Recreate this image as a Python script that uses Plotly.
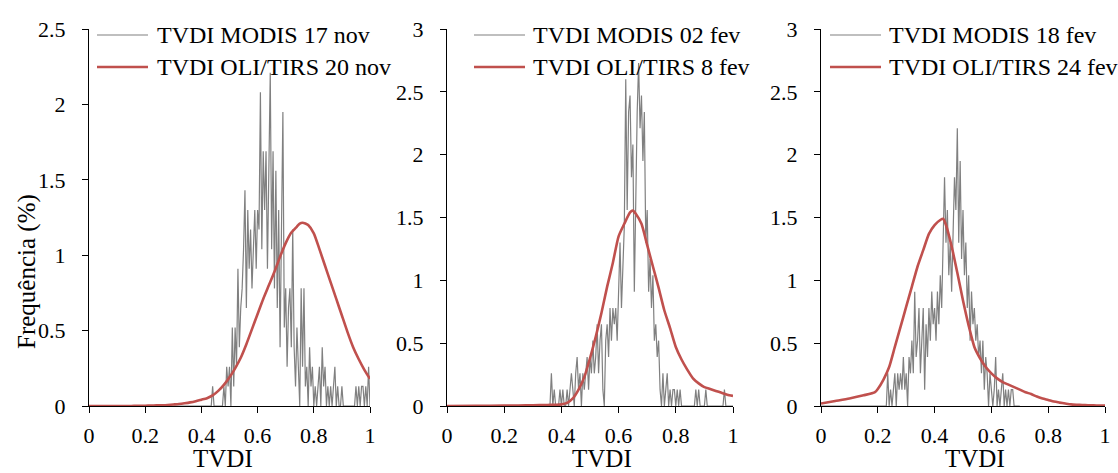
import numpy as np
import plotly.graph_objects as go

W, H = 1118, 473
FONT = "Liberation Serif"
GRAY = "#808080"
RED = "#C0504D"

# ---------------- data ----------------
step = 0.005

# Panel 1: MODIS 17 nov (gray), OLI/TIRS 20 nov (red)
p1_gray_start = 0.400
p1_gray = [
    0, 0, 0, 0, 0, 0, 0, 0, 0.13, 0,
    0, 0, 0, 0, 0, 0, 0.13, 0, 0.26, 0.13,
    0.26, 0, 0.52, 0.13, 0.52, 0.26, 0.91, 0.39, 0.65, 0.78,
    1.04, 1.43, 0.65, 1.30, 0.91, 1.17, 0.78, 1.04, 1.30, 0.91,
    1.30, 1.17, 2.08, 1.04, 1.69, 1.30, 1.69, 0.91, 1.56, 2.21,
    1.04, 1.69, 0.78, 1.56, 0.65, 1.30, 0.39, 1.04, 1.95, 0.52,
    0.78, 0.26, 0.65, 0.78, 0.39, 1.17, 0.39, 0.13, 0.52, 0.26,
    0, 0.78, 0.26, 0.78, 0.13, 0.26, 0, 0.39, 0.13, 0.26,
    0, 0.13, 0, 0.13, 0.26, 0, 0.39, 0.13, 0.26, 0,
    0.13, 0, 0.13, 0, 0.13, 0.26, 0, 0.13, 0, 0,
    0.13, 0, 0, 0, 0, 0, 0, 0, 0, 0,
    0.13, 0, 0.13, 0, 0.13, 0.13, 0, 0.13, 0, 0.26,
    0,
]
p1_red_x = [0.00, 0.02, 0.04, 0.06, 0.08, 0.10, 0.12, 0.14, 0.16, 0.18, 0.20, 0.22,
            0.24, 0.26, 0.28, 0.30, 0.32, 0.34, 0.36, 0.38, 0.40, 0.42, 0.44, 0.46,
            0.48, 0.50, 0.52, 0.54, 0.56, 0.58, 0.60, 0.62, 0.64, 0.66, 0.68, 0.70,
            0.72, 0.74, 0.75, 0.76, 0.77, 0.78, 0.80, 0.82, 0.84, 0.86, 0.88, 0.90,
            0.92, 0.94, 0.96, 0.98, 1.00]
p1_red_y = [0.0, 0.0, 0.0, 0.0, 0.0, 0.0, 0.0, 0.0, 0.001, 0.001, 0.002, 0.003,
            0.004, 0.005, 0.007, 0.010, 0.013, 0.018, 0.024, 0.032, 0.042, 0.052, 0.07, 0.10,
            0.14, 0.19, 0.25, 0.32, 0.41, 0.51, 0.61, 0.71, 0.80, 0.89, 0.99, 1.08,
            1.15, 1.19, 1.21, 1.215, 1.21, 1.20, 1.145, 1.04, 0.93, 0.82, 0.71, 0.60,
            0.49, 0.39, 0.31, 0.24, 0.18]

# Panel 2: MODIS 02 fev (gray), OLI/TIRS 8 fev (red)
p2_gray_start = 0.355
p2_gray = [
    0, 0, 0.26, 0, 0.13, 0, 0, 0, 0.13, 0,
    0.13, 0, 0, 0.13, 0, 0.13, 0.26, 0.13, 0, 0.26,
    0.39, 0.13, 0.26, 0, 0.26, 0.13, 0.26, 0.39, 0.13, 0.39,
    0.26, 0.52, 0.26, 0.39, 0.65, 0.26, 0.52, 0.65, 0.13, 0,
    0.52, 0.65, 0.39, 0.78, 0.52, 0.78, 0.65, 0.78, 0.52, 0.91,
    1.30, 0.78, 1.17, 1.43, 2.60, 1.56, 2.34, 2.47, 1.82, 2.08,
    0.91, 1.69, 2.34, 2.73, 2.21, 2.47, 1.95, 2.34, 1.30, 1.56,
    0.91, 1.17, 0.78, 1.04, 0.52, 0.65, 0.39, 0.52, 0.13, 0,
    0.26, 0, 0.13, 0.26, 0, 0.13, 0, 0.13, 0.13, 0,
    0.13, 0, 0.13, 0, 0, 0, 0, 0, 0, 0,
    0, 0, 0, 0.13, 0, 0.13, 0, 0, 0, 0,
    0.13, 0, 0, 0, 0, 0, 0, 0, 0, 0,
    0, 0, 0, 0.13, 0, 0, 0, 0, 0, 0,
]
p2_red_x = [0.00, 0.10, 0.20, 0.25, 0.30, 0.35, 0.38, 0.40, 0.42, 0.44, 0.46, 0.48,
            0.50, 0.52, 0.54, 0.56, 0.58, 0.60, 0.62, 0.64, 0.65, 0.66, 0.68, 0.70,
            0.72, 0.74, 0.76, 0.78, 0.80, 0.82, 0.84, 0.86, 0.88, 0.90, 0.92, 0.94,
            0.96, 0.98, 1.00]
p2_red_y = [0.0, 0.001, 0.003, 0.004, 0.006, 0.008, 0.010, 0.013, 0.025, 0.06, 0.13, 0.23,
            0.38, 0.55, 0.74, 0.95, 1.14, 1.35, 1.45, 1.54, 1.555, 1.53, 1.45, 1.28,
            1.11, 0.94, 0.76, 0.62, 0.47, 0.37, 0.29, 0.22, 0.18, 0.15, 0.135, 0.12,
            0.105, 0.09, 0.08]

# Panel 3: MODIS 18 fev (gray), OLI/TIRS 24 fev (red)
p3_gray_start = 0.220
p3_gray = [
    0, 0, 0, 0.26, 0, 0.13, 0, 0.13, 0.26, 0,
    0.26, 0.13, 0.26, 0.13, 0.39, 0.13, 0.26, 0, 0.39, 0.26,
    0.52, 0.26, 0.91, 0.39, 0.52, 0.78, 0.26, 0.52, 0.78, 0.13,
    0.65, 0.39, 0.78, 0.52, 0.91, 0.65, 0.78, 0.52, 0.91, 0.65,
    1.04, 0.78, 1.30, 1.82, 1.30, 1.56, 1.04, 1.30, 0.91, 1.43,
    1.82, 1.56, 2.21, 1.30, 1.95, 1.17, 1.56, 1.04, 1.30, 0.78,
    1.04, 0.52, 0.91, 0.65, 0.78, 0.52, 0.65, 0.39, 0.52, 0.26,
    0.52, 0.13, 0.39, 0.26, 0, 0.26, 0.13, 0, 0.13, 0.39,
    0, 0.13, 0, 0.13, 0.26, 0, 0.13, 0, 0.13, 0,
    0.13, 0.13, 0, 0, 0, 0, 0,
]
p3_red_x = [0.00, 0.05, 0.10, 0.15, 0.19, 0.20, 0.22, 0.24, 0.26, 0.28, 0.30, 0.32,
            0.34, 0.36, 0.38, 0.40, 0.42, 0.43, 0.44, 0.46, 0.48, 0.50, 0.52, 0.54,
            0.56, 0.58, 0.60, 0.62, 0.64, 0.66, 0.68, 0.70, 0.72, 0.74, 0.76, 0.78,
            0.80, 0.82, 0.84, 0.86, 0.88, 0.90, 0.92, 0.94, 0.96, 0.98, 1.00]
p3_red_y = [0.02, 0.04, 0.06, 0.085, 0.11, 0.135, 0.21, 0.31, 0.47, 0.63, 0.79, 0.95,
            1.11, 1.24, 1.37, 1.44, 1.48, 1.49, 1.44, 1.27, 1.06, 0.84, 0.64, 0.47,
            0.38, 0.31, 0.26, 0.22, 0.19, 0.17, 0.15, 0.13, 0.11, 0.095, 0.075, 0.06,
            0.048, 0.035, 0.027, 0.02, 0.013, 0.010, 0.008, 0.006, 0.005, 0.004, 0.003]

gray_names = ["TVDI MODIS 17 nov", "TVDI MODIS 02 fev", "TVDI MODIS 18 fev"]
red_names = ["TVDI OLI/TIRS 20 nov", "TVDI OLI/TIRS 8 fev", "TVDI OLI/TIRS 24 fev"]
y_max = [2.5, 3, 3]

# ---------------- layout geometry (pixels) ----------------
axis_px = [(89, 370), (447, 733), (821, 1105)]
y_top_px, y_bot_px = 29, 406
legend_px = [(97, 148, 155), (474, 525, 531), (830, 881, 887)]
title_x_px = [223, 602, 975]


def px(x):
    return x / W


def py(y):
    return 1 - y / H


def gray_xy(start, vals):
    xs = [0.0] + [round(start + i * step, 3) for i in range(len(vals))]
    ys = [0.0] + list(vals)
    return xs, ys


grays = [gray_xy(p1_gray_start, p1_gray), gray_xy(p2_gray_start, p2_gray),
         gray_xy(p3_gray_start, p3_gray)]
reds = [(p1_red_x, p1_red_y), (p2_red_x, p2_red_y), (p3_red_x, p3_red_y)]

fig = go.Figure()
for i in range(3):
    sfx = "" if i == 0 else str(i + 1)
    gx, gy = grays[i]
    rx, ry = reds[i]
    fig.add_trace(go.Scatter(x=gx, y=gy, mode="lines", name=gray_names[i],
                             line=dict(color=GRAY, width=1.2),
                             xaxis="x" + sfx, yaxis="y" + sfx, showlegend=False))
    fig.add_trace(go.Scatter(x=rx, y=ry, mode="lines", name=red_names[i],
                             line=dict(color=RED, width=2.6, shape="spline", smoothing=0.6),
                             xaxis="x" + sfx, yaxis="y" + sfx, showlegend=False))

layout = dict(
    width=W, height=H,
    margin=dict(l=0, r=0, t=0, b=0, autoexpand=False),
    paper_bgcolor="white", plot_bgcolor="white",
    font=dict(family=FONT, size=22, color="black"),
    showlegend=False,
)
shapes = []
annotations = []
for i in range(3):
    sfx = "" if i == 0 else str(i + 1)
    x0, x1 = axis_px[i]
    layout["xaxis" + sfx] = dict(
        domain=[px(x0), px(x1)], range=[0, 1], anchor="y" + sfx,
        tickvals=[0, 0.2, 0.4, 0.6, 0.8, 1], showgrid=False, zeroline=False,
        showline=True, linecolor="black", linewidth=1.3,
        ticks="outside", ticklen=6, tickwidth=1.3, tickcolor="black",
        tickfont=dict(family=FONT, size=22, color="black"), ticklabelstandoff=3,
        automargin=False,
    )
    layout["yaxis" + sfx] = dict(
        domain=[py(y_bot_px), py(y_top_px)], range=[0, y_max[i]], anchor="x" + sfx,
        dtick=0.5, showgrid=False, zeroline=False,
        showline=True, linecolor="black", linewidth=1.3,
        ticks="outside", ticklen=6, tickwidth=1.3, tickcolor="black",
        tickfont=dict(family=FONT, size=22, color="black"), ticklabelstandoff=12,
        automargin=False,
    )
    # legend (manual, so the sample lines match)
    lx0, lx1, tx = legend_px[i]
    for yy, col, wd, name in [(35, GRAY, 1.2, gray_names[i]), (67, RED, 2.6, red_names[i])]:
        shapes.append(dict(type="line", xref="paper", yref="paper",
                           x0=px(lx0), x1=px(lx1), y0=py(yy), y1=py(yy),
                           line=dict(color=col, width=wd)))
        annotations.append(dict(x=px(tx), y=py(yy), xref="paper", yref="paper",
                                text=name, showarrow=False, xanchor="left", yanchor="middle",
                                font=dict(family=FONT, size=24, color="black")))
    annotations.append(dict(x=px(title_x_px[i]), y=0, xref="paper", yref="paper",
                            text="TVDI", showarrow=False, xanchor="center", yanchor="bottom",
                            borderpad=0,
                            font=dict(family=FONT, size=25, color="black")))

annotations.append(dict(x=px(27), y=py(272), xref="paper", yref="paper",
                        text="Frequência (%)", showarrow=False, textangle=-90,
                        xanchor="center", yanchor="middle",
                        font=dict(family=FONT, size=25, color="black")))

layout["shapes"] = shapes
layout["annotations"] = annotations
fig.update_layout(**layout)
fig.write_html(
    "out.html",
    config={"displayModeBar": False},
    post_script="document.body.style.margin='0';document.body.style.overflow='hidden';",
)
